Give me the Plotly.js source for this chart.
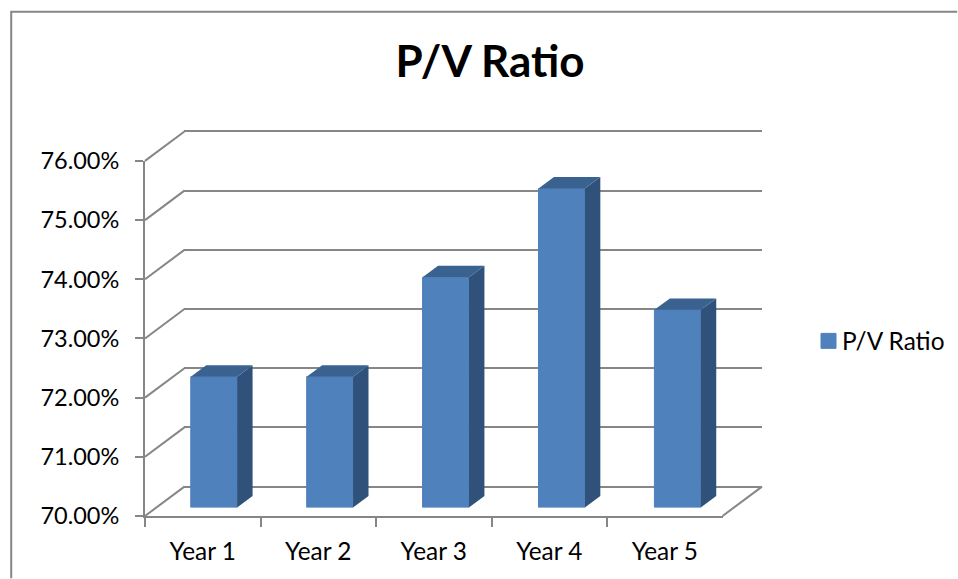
<!DOCTYPE html>
<html>
<head>
<meta charset="utf-8">
<script src="https://cdn.plot.ly/plotly-3.0.1.min.js"></script>
<style>html,body{margin:0;padding:0;background:#fff}#chart{width:958px;height:579px}text{font-variant-ligatures:none}</style>
</head>
<body>
<div id="chart"></div>
<script>
var categories = ["Year 1", "Year 2", "Year 3", "Year 4", "Year 5"];
var pvRatio = [0.7221, 0.7221, 0.7389, 0.7539, 0.7334];
var seriesName = "P/V Ratio";
var titleText = "P/V Ratio";
var axisMin = 0.70, axisMax = 0.76, axisStep = 0.01;

var W = 958, H = 579;
var L = 144.5, R = 763.5, T = 120.5, B = 516.5;   // plot box, px
var frontW = 578.5, frontH = 356;                 // front plane size, px
var barPlaneW = 580.5;                            // width of the bars' plane, px
var wallDX = 39.5, wallDY = 29.5;                 // offset of the back wall
var barDX = 11, barDY = 8.5;                      // offset of the bars' front faces
var depthDX = 15.5, depthDY = 11.5;               // bar depth
var PW = R - L, PH = B - T;
var GRAY = "#868686", FONT = "Lato, Carlito, 'Open Sans', sans-serif";

function domX(o, w) { return [o / PW, (o + (w || frontW)) / PW]; }
function domY(o) { return [o / PH, (o + frontH) / PH]; }
var catRange = [-0.5, categories.length - 0.5];
var unitXBar = barPlaneW / categories.length;     // px per category, bars' plane
var unitY = frontH / (axisMax - axisMin);         // px per value unit
var halfBar = 0.2;
var wallPad = 3;                                  // px, keeps the end gridlines from being clipped

var hidden = {showgrid: false, zeroline: false, showticklabels: false, ticks: "", showline: false};

var layout = {
  width: W, height: H,
  margin: {l: L, r: W - R, t: T, b: H - B, pad: 0},
  paper_bgcolor: "#fff", plot_bgcolor: "rgba(0,0,0,0)",
  font: {family: FONT, color: "#000"},
  title: {text: "<b>" + titleText + "</b>", font: {family: FONT, size: 44, color: "#000"},
          x: 490 / W, xanchor: "center", xref: "container", y: 1 - 62 / H, yanchor: "middle", yref: "container"},
  showlegend: true,
  legend: {xref: "container", yref: "container", x: 802 / W, y: 1 - 341 / H, xanchor: "left", yanchor: "middle",
           font: {family: FONT, size: 24.4, color: "#000"}, bgcolor: "rgba(0,0,0,0)", itemwidth: 30},
  // back wall: gridlines only
  xaxis: Object.assign({}, hidden, {domain: domX(wallDX), anchor: "y", range: catRange, type: "linear"}),
  yaxis: Object.assign({}, hidden, {
          domain: [(wallDY - wallPad) / PH, (wallDY + frontH + wallPad) / PH], anchor: "x",
          range: [axisMin - wallPad / unitY, axisMax + wallPad / unitY], dtick: axisStep, tick0: axisMin,
          showgrid: true, gridcolor: GRAY, gridwidth: 2}),
  // front plane: axis lines, ticks, labels
  xaxis2: {domain: domX(0), anchor: "y2", type: "category", categoryorder: "array", categoryarray: categories, range: catRange,
           tickson: "boundaries", ticks: "outside", ticklen: 9, tickwidth: 2, tickcolor: GRAY, showline: true, linecolor: GRAY, linewidth: 2,
           showgrid: false, zeroline: false, tickfont: {family: FONT, size: 24.4, color: "#000"}, ticklabelstandoff: 13},
  yaxis2: {domain: domY(0), anchor: "x2", range: [axisMin, axisMax], dtick: axisStep, tick0: axisMin, tickformat: ".2%",
           ticks: "outside", ticklen: 8, tickwidth: 2, tickcolor: GRAY, showline: true, linecolor: GRAY, linewidth: 2,
           showgrid: false, zeroline: false, tickfont: {family: FONT, size: 23.5, color: "#000"}, ticklabelstandoff: 11},
  // bars' front plane
  xaxis3: Object.assign({}, hidden, {domain: domX(barDX, barPlaneW), anchor: "y3", type: "category", categoryorder: "array", categoryarray: categories, range: catRange}),
  yaxis3: Object.assign({}, hidden, {domain: domY(barDY), anchor: "x3", range: [axisMin, axisMax]}),
  bargap: 0.6,
  shapes: []
};

var lineStyle = {color: GRAY, width: 2};
function paperX(p) { return (p - L) / PW; }
function paperY(p) { return (B - p) / PH; }
// chart frame: left and top edges only
layout.shapes.push({type: "path", xref: "paper", yref: "paper", layer: "below",
  path: "M" + paperX(10.5) + "," + paperY(579) + " L" + paperX(10.5) + "," + paperY(11) + " L" + paperX(958) + "," + paperY(11),
  line: lineStyle});

// side wall diagonals and floor edge, in paper space so the top one is not clipped
function diagonal(fromPx, offsetPx) {
  layout.shapes.push({type: "line", xref: "paper", yref: "paper", layer: "below",
    x0: fromPx / PW, y0: offsetPx / PH, x1: (fromPx + wallDX) / PW, y1: (offsetPx + wallDY) / PH, line: lineStyle});
}
for (var t = 0; t <= Math.round((axisMax - axisMin) / axisStep); t++) {
  diagonal(0, t * axisStep * unitY);
}
diagonal(frontW, 0);

// bar side and top faces, from the values
var dx = depthDX / unitXBar, dy = depthDY / unitY;
pvRatio.forEach(function (val, i) {
  var a = i - halfBar, b = i + halfBar;
  layout.shapes.push({type: "path", xref: "x3", yref: "y3", layer: "above", fillcolor: "#30527A", line: {width: 0},
    path: "M" + b + "," + axisMin + " L" + (b + dx) + "," + (axisMin + dy) + " L" + (b + dx) + "," + (val + dy) + " L" + b + "," + val + " Z"});
  layout.shapes.push({type: "path", xref: "x3", yref: "y3", layer: "above", fillcolor: "#3A6291", line: {width: 0},
    path: "M" + a + "," + val + " L" + (a + dx) + "," + (val + dy) + " L" + (b + dx) + "," + (val + dy) + " L" + b + "," + val + " Z"});
});

var traces = [
  {type: "scatter", mode: "none", x: [0], y: [axisMin], xaxis: "x", yaxis: "y", showlegend: false, hoverinfo: "skip"},
  {type: "scatter", mode: "none", x: categories, y: pvRatio, xaxis: "x2", yaxis: "y2", showlegend: false, hoverinfo: "skip"},
  {type: "bar", name: seriesName, x: categories, y: pvRatio.map(function (v) { return v - axisMin; }), base: axisMin, xaxis: "x3", yaxis: "y3",
   marker: {color: "#4F81BD", line: {color: "#4F81BD", width: 1}}}
];
Plotly.newPlot("chart", traces, layout, {displayModeBar: false, responsive: false}).then(function () {
  // legend swatch: larger and closer to its label, as in the reference
  var sym = document.querySelector(".legend .legendsymbols");
  var swatch = document.querySelector(".legend .legendpoints path");
  if (sym && swatch) {
    sym.setAttribute("transform", "translate(6.5,0)");
    swatch.setAttribute("d", "M7.5,7.5H-7.5V-7.5H7.5Z");
  }
});
</script>
</body>
</html>
